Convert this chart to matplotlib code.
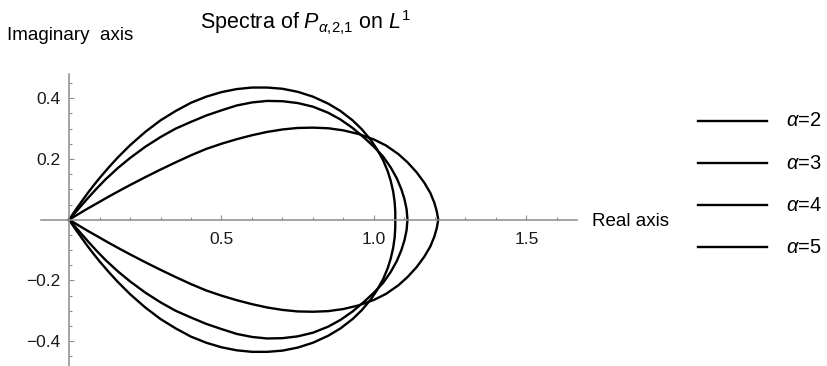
import matplotlib.pyplot as plt
from matplotlib.lines import Line2D
import numpy as np

plt.rcParams['font.family'] = ['Liberation Sans', 'DejaVu Sans']
plt.rcParams['mathtext.fontset'] = 'custom'
plt.rcParams['mathtext.rm'] = 'Liberation Sans'
plt.rcParams['mathtext.it'] = 'Liberation Sans:italic'

# upper halves of the spectral curves, the lower halves are their mirror images
inner_re = [0, 0.02, 0.04, 0.06, 0.08, 0.10, 0.13, 0.16, 0.20, 0.25, 0.30, 0.35, 0.40, 0.45,
            0.50, 0.55, 0.60, 0.65, 0.70, 0.75, 0.80, 0.85, 0.89, 0.93, 0.96, 0.99, 1.01,
            1.03, 1.045, 1.055, 1.063, 1.068, 1.070, 1.070]
inner_im = [0, 0.030, 0.058, 0.086, 0.112, 0.137, 0.172, 0.205, 0.245, 0.289, 0.327, 0.358,
            0.385, 0.405, 0.420, 0.430, 0.435, 0.435, 0.431, 0.421, 0.405, 0.382, 0.358,
            0.327, 0.298, 0.262, 0.232, 0.196, 0.160, 0.128, 0.093, 0.058, 0.025, 0]

middle_re = [0, 0.02, 0.04, 0.06, 0.09, 0.12, 0.16, 0.20, 0.25, 0.30, 0.35, 0.40, 0.45, 0.50,
             0.55, 0.60, 0.65, 0.70, 0.75, 0.80, 0.85, 0.89, 0.93, 0.97, 1.00, 1.03, 1.055,
             1.075, 1.09, 1.10, 1.107, 1.110]
middle_im = [0, 0.023, 0.046, 0.069, 0.102, 0.133, 0.170, 0.203, 0.240, 0.272, 0.300, 0.322,
             0.343, 0.360, 0.376, 0.386, 0.391, 0.390, 0.384, 0.372, 0.352, 0.330, 0.302,
             0.268, 0.240, 0.208, 0.172, 0.136, 0.100, 0.068, 0.035, 0]

outer_re = [0, 0.03, 0.06, 0.09, 0.13, 0.17, 0.20, 0.25, 0.30, 0.35, 0.40, 0.45, 0.50, 0.55,
            0.60, 0.65, 0.70, 0.75, 0.80, 0.85, 0.90, 0.95, 1.00, 1.04, 1.08, 1.11, 1.14,
            1.165, 1.185, 1.198, 1.206, 1.211]
outer_im = [0, 0.018, 0.036, 0.053, 0.076, 0.098, 0.114, 0.140, 0.165, 0.189, 0.212, 0.233,
            0.250, 0.265, 0.278, 0.289, 0.297, 0.302, 0.303, 0.301, 0.294, 0.282, 0.264,
            0.244, 0.216, 0.189, 0.156, 0.122, 0.088, 0.056, 0.028, 0]

legend_labels = [r'$\alpha$=2', r'$\alpha$=3', r'$\alpha$=4', r'$\alpha$=5']

xticks = [0.5, 1.0, 1.5]
xtick_labels = ['0.5', '1.0', '1.5']
yticks = [-0.4, -0.2, 0.2, 0.4]
ytick_labels = ['\u22120.4', '\u22120.2', '0.2', '0.4']

axis_gray = '#8c8c8c'

fig = plt.figure(figsize=(8.27, 3.66), dpi=100)
ax = fig.add_axes([41 / 827, 0, 536 / 827, 292 / 366])

for re, im in [(inner_re, inner_im), (middle_re, middle_im), (outer_re, outer_im)]:
    re = np.array(re)
    im = np.array(im)
    x = np.concatenate([re, re[::-1]])
    y = np.concatenate([im, -im[::-1]])
    ax.plot(x, y, color='black', lw=1.7, solid_joinstyle='round')

ax.set_xlim(-0.092, 1.666)
ax.set_ylim(-0.4816, 0.4796)

for side in ['top', 'right']:
    ax.spines[side].set_visible(False)
for side in ['left', 'bottom']:
    ax.spines[side].set_position(('data', 0))
    ax.spines[side].set_color(axis_gray)
    ax.spines[side].set_linewidth(1.1)

ax.set_xticks(xticks, xtick_labels)
ax.set_yticks(yticks, ytick_labels)
ax.xaxis.set_minor_locator(plt.MultipleLocator(0.1))
ax.yaxis.set_minor_locator(plt.MultipleLocator(0.05))
ax.tick_params(which='both', direction='in', color=axis_gray, width=0.8, labelcolor='#1a1a1a',
               labelsize=12.5)
ax.tick_params(which='major', length=3.5)
ax.tick_params(which='minor', length=2)
ax.tick_params(axis='x', pad=9)
ax.tick_params(axis='y', pad=6.5)

# {,} keeps mathtext from adding space after the subscript commas
fig.text(306 / 827, 1 - 29.5 / 366, r'Spectra of $P_{\alpha{,}2{,}1}$ on $L^1$', ha='center',
         va='baseline', fontsize=15.5)
fig.text(7 / 827, 1 - 39.5 / 366, 'Imaginary  axis', ha='left', va='baseline', fontsize=13.5)
fig.text(592 / 827, 1 - 226 / 366, 'Real axis', ha='left', va='baseline', fontsize=13.5)

# legend drawn by hand to the right of the plot
for i, label in enumerate(legend_labels):
    y = 1 - (121 + 42.1 * i) / 366
    fig.add_artist(Line2D([698 / 827, 767 / 827], [y, y], color='black', lw=1.7))
    fig.text(786 / 827, y, label, ha='left', va='center', fontsize=14.5)

fig.savefig('out.png', dpi=100)
